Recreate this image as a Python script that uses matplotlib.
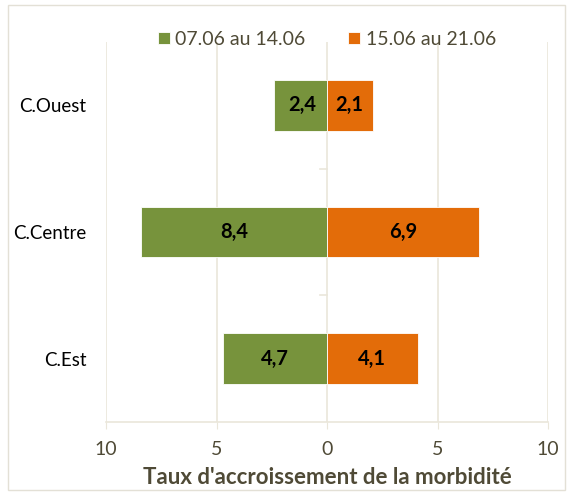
import matplotlib
matplotlib.use("Agg")
import matplotlib.pyplot as plt
from matplotlib.patches import Rectangle

categories = ["C.Ouest", "C.Centre", "C.Est"]
series_names = ["07.06 au 14.06", "15.06 au 21.06"]
week1 = [2.4, 8.4, 4.7]
week2 = [2.1, 6.9, 4.1]
xticks = [-10, -5, 0, 5, 10]
xticklabels = ["10", "5", "0", "5", "10"]
xlabel = "Taux d'accroissement de la morbidité"

green = "#77933C"
orange = "#E36C09"
grid_c = "#EAE6DA"
text_c = "#4F4A36"

plt.rcParams['font.family'] = ['Lato', 'DejaVu Sans']

fig = plt.figure(figsize=(5.67, 4.95), dpi=100)
fig.patches.append(Rectangle((0.014, 0.01), 0.983, 0.98, transform=fig.transFigure,
                             fill=False, edgecolor="#E3E0D6", linewidth=1.0))
ax = fig.add_axes([0.187, 0.1475, 0.7795, 0.7675])

ypos = list(range(len(categories)))
neg1 = [-v for v in week1]
ax.barh(ypos, neg1, height=0.4, color=green, edgecolor="white", linewidth=0.6,
        label=series_names[0], zorder=3)
ax.barh(ypos, week2, height=0.4, color=orange, edgecolor="white", linewidth=0.6,
        label=series_names[1], zorder=3)

for y, v in zip(ypos, week1):
    ax.text(-v / 2 if v > 3 else -v + 1.3, y, f"{v:.1f}".replace(".", ","), ha="center", va="center",
            fontsize=14.5, fontweight="bold", color="black", zorder=4)
for y, v in zip(ypos, week2):
    ax.text(v / 2 if v > 3 else 1.0, y, f"{v:.1f}".replace(".", ","), ha="center", va="center",
            fontsize=14.5, fontweight="bold", color="black", zorder=4)

ax.set_xlim(-10, 10)
ax.set_ylim(2.5, -0.5)
ax.set_xticks(xticks)
ax.set_xticklabels(xticklabels, fontsize=14, color=text_c)
ax.set_yticks(ypos)
ax.set_yticklabels(categories, fontsize=13.5, color="black")
ax.tick_params(axis="y", length=0, pad=14)
ax.tick_params(axis="x", length=5, color=grid_c, pad=9)

for s in ["top", "right", "left"]:
    ax.spines[s].set_visible(False)
ax.spines["bottom"].set_color(grid_c)
ax.spines["bottom"].set_linewidth(1.2)

for x in xticks:
    ax.axvline(x, color=grid_c, linewidth=1.2, zorder=1)
for yb in [0.5, 1.5]:
    ax.plot([-0.3, 0], [yb, yb], color=grid_c, linewidth=1.2, zorder=1, clip_on=False)

ax.set_xlabel(xlabel, fontsize=16, fontweight="bold", color=text_c, labelpad=6)

leg = ax.legend(loc="lower center", bbox_to_anchor=(0.5, 0.965), ncol=2, frameon=False,
                fontsize=14, handlelength=0.6, handleheight=0.6, handletextpad=0.3,
                columnspacing=2.2, borderaxespad=0)
for t in leg.get_texts():
    t.set_color(text_c)

fig.savefig("out.png", dpi=100)
